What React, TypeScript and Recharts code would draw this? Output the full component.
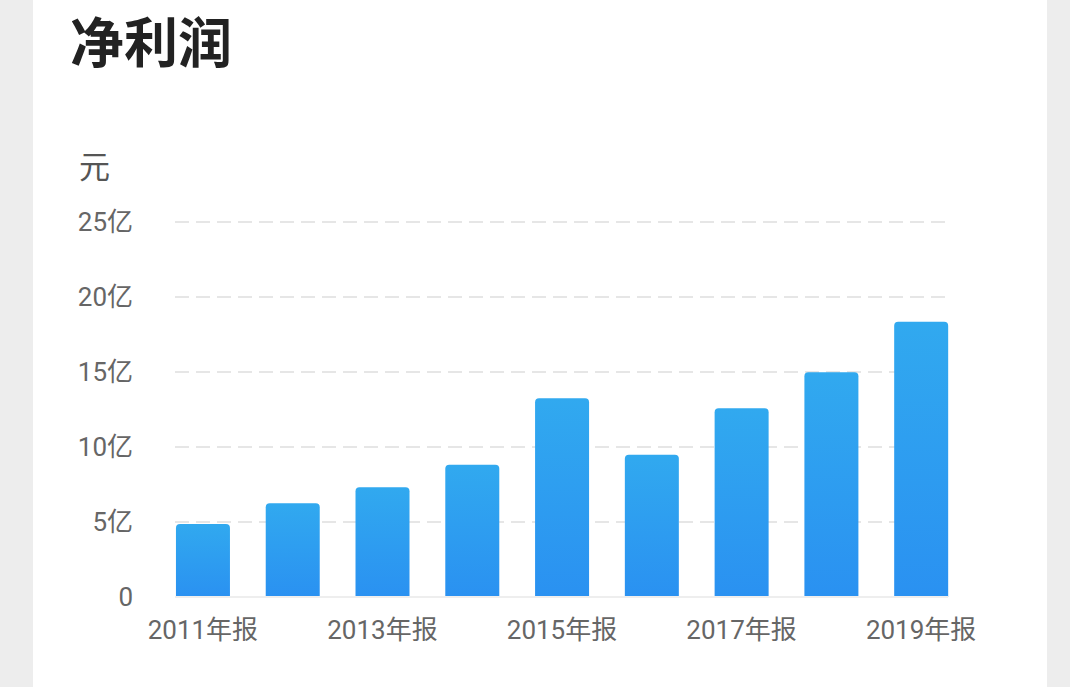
import React from 'react';
import { BarChart, Bar, XAxis, YAxis, CartesianGrid } from 'recharts';

const years = ['2011年报', '2012年报', '2013年报', '2014年报', '2015年报', '2016年报', '2017年报', '2018年报', '2019年报'];
const netProfit = [4.87, 6.25, 7.31, 8.82, 13.25, 9.48, 12.58, 14.98, 18.35]; // 亿元
const yTicks = [0, 5, 10, 15, 20, 25];

const data = years.map((name, i) => ({ name, value: netProfit[i] }));

const font = "Roboto, 'Noto Sans CJK SC', sans-serif";

const App: React.FC = () => {
    return (
        <div style={{ position: 'fixed', left: 0, top: 0, width: 1070, height: 687, background: '#ededed', overflow: 'hidden', fontFamily: font }}>
            <div style={{ position: 'absolute', left: 33, top: 0, width: 1014, height: 687, background: '#ffffff' }} />
            <div style={{ position: 'absolute', left: 70, top: 10, fontSize: 54, fontWeight: 700, color: '#222222', lineHeight: '70px' }}>
                净利润
            </div>
            <div style={{ position: 'absolute', left: 79, top: 148, fontSize: 31, color: '#555555', lineHeight: '40px' }}>
                元
            </div>
            <div style={{ position: 'absolute', left: 0, top: 0 }}>
                <BarChart
                    width={1070}
                    height={687}
                    data={data}
                    barCategoryGap="20%"
                    margin={{ top: 222, right: 122, left: 0, bottom: 0 }}
                >
                    <defs>
                        <linearGradient id="barFill" x1="0" y1="0" x2="0" y2="1">
                            <stop offset="0%" stopColor="#31a9ef" />
                            <stop offset="100%" stopColor="#2a91f1" />
                        </linearGradient>
                    </defs>
                    <CartesianGrid vertical={false} strokeDasharray="14 7" stroke="#e6e6e6" strokeWidth={2} />
                    <XAxis
                        dataKey="name"
                        interval={1}
                        axisLine={{ stroke: '#eeeeee', strokeWidth: 2 }}
                        tickLine={false}
                        tickSize={0}
                        tickMargin={24}
                        height={90}
                        padding={{ left: -17, right: -18 }}
                        tick={{ fill: '#666666', fontSize: 26, fontFamily: font }}
                    />
                    <YAxis
                        domain={[0, 25]}
                        ticks={yTicks}
                        width={175}
                        axisLine={false}
                        tickLine={false}
                        tickSize={0}
                        tickMargin={42}
                        tick={{ fill: '#666666', fontSize: 26, fontFamily: font }}
                        tickFormatter={(v) => (v === 0 ? '0' : `${v}亿`)}
                    />
                    <Bar dataKey="value" fill="url(#barFill)" radius={[4, 4, 0, 0]} isAnimationActive={false} />
                </BarChart>
            </div>
        </div>
    );
};

export default App;
